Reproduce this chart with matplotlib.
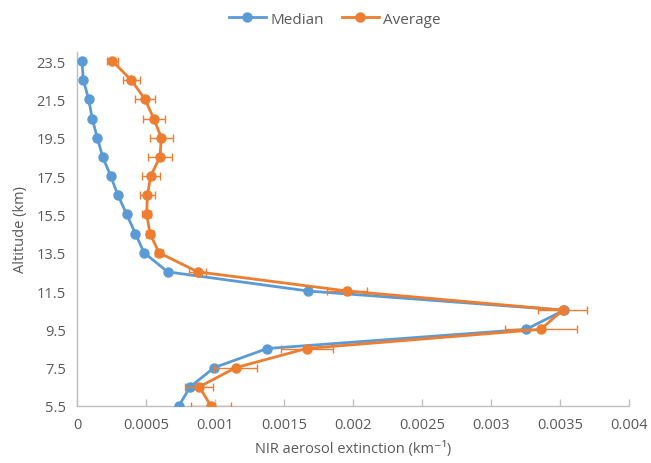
import matplotlib
matplotlib.use("Agg")
import matplotlib.pyplot as plt
from matplotlib.lines import Line2D

altitude = [5.5, 6.5, 7.5, 8.5, 9.5, 10.5, 11.5, 12.5, 13.5, 14.5, 15.5,
            16.5, 17.5, 18.5, 19.5, 20.5, 21.5, 22.5, 23.5]
median = [0.000737, 0.000821, 0.000993, 0.001379, 0.003254, 0.003530,
          0.001676, 0.000657, 0.000486, 0.000423, 0.000360, 0.000297,
          0.000244, 0.000186, 0.000147, 0.000110, 0.000085, 0.000046,
          0.000036]
average = [0.000971, 0.000886, 0.001150, 0.001664, 0.003360, 0.003520,
           0.001959, 0.000874, 0.000594, 0.000529, 0.000505, 0.000510,
           0.000534, 0.000601, 0.000611, 0.000556, 0.000493, 0.000394,
           0.000256]
average_err = [0.000144, 0.000100, 0.000157, 0.000188, 0.000260, 0.000179,
               0.000146, 0.000060, 0.000030, 0.000030, 0.000031, 0.000052,
               0.000065, 0.000090, 0.000085, 0.000080, 0.000075, 0.000063,
               0.000042]
x_ticks = [0, 0.0005, 0.001, 0.0015, 0.002, 0.0025, 0.003, 0.0035, 0.004]
x_tick_labels = ["0", "0.0005", "0.001", "0.0015", "0.002", "0.0025",
                 "0.003", "0.0035", "0.004"]
y_ticks = [5.5, 7.5, 9.5, 11.5, 13.5, 15.5, 17.5, 19.5, 21.5, 23.5]

plt.rcParams['font.family'] = ['Open Sans', 'DejaVu Sans']
text_color = '#595959'
blue = '#5B9BD5'
orange = '#ED7D31'

fig = plt.figure(figsize=(6.51, 4.64), dpi=100)
ax = fig.add_axes([77/651, 57/464, 552/651, 354.5/464])

ax.plot(median, altitude, color=blue, lw=2.0, marker='o', ms=6.5,
        label='Median', zorder=3)
ax.errorbar(average, altitude, xerr=average_err, color=orange, lw=2.0,
            marker='o', ms=6.5, ecolor=orange, elinewidth=1.0, capsize=3,
            capthick=1.0, label='Average', zorder=4)

ax.set_xlim(0, 0.004)
ax.set_ylim(5.5, 24.0)
ax.set_xticks(x_ticks)
ax.set_xticklabels(x_tick_labels)
ax.set_yticks(y_ticks)
ax.set_yticklabels([f"{v}" for v in y_ticks])

for s in ['top', 'right']:
    ax.spines[s].set_visible(False)
for s in ['left', 'bottom']:
    ax.spines[s].set_color('#BFBFBF')
    ax.spines[s].set_linewidth(1.0)

ax.tick_params(axis='x', direction='in', length=5, width=1, color='#BFBFBF',
               labelsize=10.5, labelcolor=text_color, pad=8)
ax.tick_params(axis='y', length=0, labelsize=10.5, labelcolor=text_color,
               pad=8)

ax.set_xlabel('NIR aerosol extinction (km\u207b\u00b9)', fontsize=10.5,
              color=text_color, labelpad=6)
ax.set_ylabel('Altitude (km)', fontsize=10.5, color=text_color, labelpad=6)

handles = [Line2D([], [], color=blue, lw=2, marker='o', ms=6.5),
           Line2D([], [], color=orange, lw=2, marker='o', ms=6.5)]
leg = fig.legend(handles, ['Median', 'Average'], loc='center',
                 bbox_to_anchor=(335/651, 1 - 20/464), ncol=2, frameon=False,
                 fontsize=11, handlelength=2.4, columnspacing=1.2,
                 handletextpad=0.3)
for t in leg.get_texts():
    t.set_color(text_color)

fig.savefig('out.png', dpi=100)
